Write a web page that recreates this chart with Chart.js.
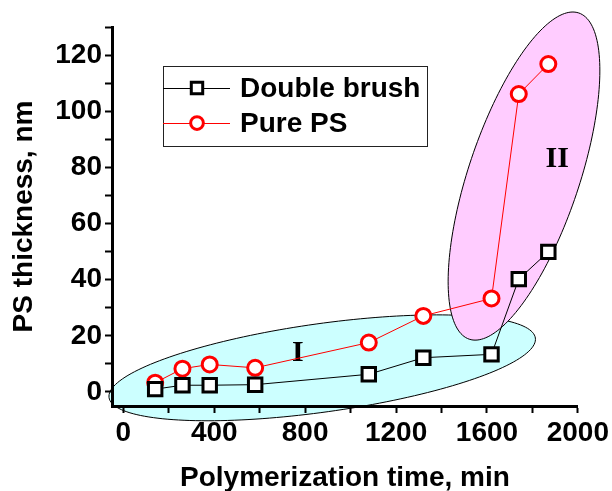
<!DOCTYPE html>
<html>
<head>
<meta charset="utf-8">
<script src="https://cdn.jsdelivr.net/npm/chart.js@4/dist/chart.umd.min.js"></script>
<style>
  html, body { margin: 0; padding: 0; background: #fff; }
</style>
</head>
<body>
<canvas id="chart" width="612" height="491"></canvas>
<script>
const timeMin = [140, 260, 380, 580, 1080, 1320, 1620, 1740, 1870];
const doubleBrush = [1, 2.4, 2.4, 2.6, 6.3, 12.2, 13.4, 40.2, 49.9];
const purePS = [3.3, 8.3, 9.8, 8.6, 17.6, 27.1, 33.3, 106.1, 116.8];
const seriesNames = ['Double brush', 'Pure PS'];
const xTickLabels = [0, 400, 800, 1200, 1600, 2000];
const yTickLabels = [0, 20, 40, 60, 80, 100, 120];

// the two shaded regions: centre + two semi-axis vectors, all in data units
const regionNames = ['I', 'II'];
const regionCentres = [[875, 8.6], [1763, 76.9]];
const regionAxisA = [[938, 10.6], [241, 58.1]];
const regionAxisB = [[26.8, -15.6], [231, -6.3]];
const regionLabelAt = [[768, 13.9], [1909, 82.8]];
const regionFills = ['#ccffff', '#ffccff'];

const sans = '"Liberation Sans", Arial, sans-serif';

const regions = {
    id: 'regions',
    beforeDraw(chart) {
        let ctx = chart.ctx;
        let xs = chart.scales.x, ys = chart.scales.y;
        regionCentres.forEach((c, i) => {
            ctx.save();
            ctx.beginPath();
            for (let k = 0; k <= 180; k++) {
                let t = k / 180 * Math.PI * 2;
                let dx = c[0] + regionAxisA[i][0] * Math.cos(t) + regionAxisB[i][0] * Math.sin(t);
                let dy = c[1] + regionAxisA[i][1] * Math.cos(t) + regionAxisB[i][1] * Math.sin(t);
                let px = xs.getPixelForValue(dx), py = ys.getPixelForValue(dy);
                if (k === 0) ctx.moveTo(px, py); else ctx.lineTo(px, py);
            }
            ctx.closePath();
            ctx.fillStyle = regionFills[i];
            ctx.fill();
            ctx.lineWidth = 1;
            ctx.strokeStyle = '#000';
            ctx.stroke();
            ctx.restore();
        });
    },
    beforeDatasetsDraw(chart) {
        let ctx = chart.ctx;
        ctx.save();
        ctx.font = 'bold 30px "Liberation Serif", "Times New Roman", serif';
        ctx.fillStyle = '#000';
        ctx.textAlign = 'center';
        ctx.textBaseline = 'middle';
        regionNames.forEach((name, i) => {
            ctx.fillText(name,
                chart.scales.x.getPixelForValue(regionLabelAt[i][0]),
                chart.scales.y.getPixelForValue(regionLabelAt[i][1]));
        });
        ctx.restore();
    }
};

const legendBox = {
    id: 'legendBox',
    afterDraw(chart) {
        let ctx = chart.ctx;
        let area = chart.chartArea;
        let left = area.left + 51, top = area.top + 39, w = 264, h = 80;
        ctx.save();
        ctx.fillStyle = '#fff';
        ctx.fillRect(left, top, w, h);
        ctx.strokeStyle = '#222';
        ctx.lineWidth = 1;
        ctx.strokeRect(left + 0.5, top + 0.5, w, h);
        chart.data.datasets.forEach((ds, i) => {
            let cy = top + 22 + i * 35;
            ctx.strokeStyle = ds.borderColor;
            ctx.lineWidth = 1;
            ctx.beginPath();
            ctx.moveTo(left, cy + 0.5);
            ctx.lineTo(left + 67, cy + 0.5);
            ctx.stroke();
            ctx.fillStyle = ds.pointBackgroundColor;
            ctx.strokeStyle = ds.pointBorderColor;
            ctx.lineWidth = ds.pointBorderWidth;
            Chart.helpers.drawPoint(ctx, {
                pointStyle: ds.pointStyle,
                radius: ds.pointRadius * 0.85,
                borderWidth: ds.pointBorderWidth,
                rotation: 0
            }, left + 34, cy);
            ctx.fillStyle = '#000';
            ctx.font = 'bold 28px ' + sans;
            ctx.textBaseline = 'middle';
            ctx.textAlign = 'left';
            ctx.fillText(ds.label, left + 77, cy + 1);
        });
        ctx.restore();
    }
};

function axisOptions(min, max, step, labels, title) {
    return {
        type: 'linear',
        min: min,
        max: max,
        // major and minor tick marks from 0 upwards, labels only on the listed values
        afterBuildTicks: s => {
            let ticks = [];
            for (let v = 0; v <= max; v += step) ticks.push({ value: v });
            s.ticks = ticks;
        },
        ticks: {
            stepSize: step,
            autoSkip: false,
            maxRotation: 0,
            color: '#000',
            padding: 3,
            font: { family: sans, size: 28, weight: 'bold' },
            callback: v => labels.includes(v) ? String(v) : ''
        },
        grid: {
            drawOnChartArea: false,
            tickLength: 7,
            tickWidth: 2,
            tickColor: '#000'
        },
        border: { display: true, width: 3, color: '#000' },
        title: {
            display: true,
            text: title,
            color: '#000',
            font: { family: sans, size: 28, weight: 'bold' },
            padding: { top: 0, bottom: -4 }
        }
    };
}

let xAxis = axisOptions(-50, 2000, 200, xTickLabels, 'Polymerization time, min');
xAxis.afterFit = s => { s.height = 85; };
let yAxis = axisOptions(-5, 130, 10, yTickLabels, 'PS thickness, nm');
yAxis.afterFit = s => { s.width = 112; };
yAxis.title.padding = { top: 7, bottom: 0 };

new Chart(document.getElementById('chart').getContext('2d'), {
    type: 'line',
    data: {
        datasets: [
            {
                label: seriesNames[0],
                data: timeMin.map((t, i) => ({ x: t, y: doubleBrush[i] })),
                borderColor: '#000',
                borderWidth: 1,
                pointStyle: 'rect',
                pointRadius: 9.5,
                pointBorderWidth: 3,
                pointBackgroundColor: '#fff',
                pointBorderColor: '#000',
                clip: false
            },
            {
                label: seriesNames[1],
                data: timeMin.map((t, i) => ({ x: t, y: purePS[i] })),
                borderColor: '#ff0000',
                borderWidth: 1,
                pointStyle: 'circle',
                pointRadius: 7.5,
                pointBorderWidth: 3,
                pointBackgroundColor: '#fff',
                pointBorderColor: '#ff0000',
                clip: false
            }
        ]
    },
    options: {
        responsive: false,
        animation: false,
        devicePixelRatio: 1,
        layout: { padding: { top: 27, right: 34, left: 0, bottom: 0 } },
        plugins: {
            legend: { display: false },
            tooltip: { enabled: false }
        },
        scales: { x: xAxis, y: yAxis }
    },
    plugins: [regions, legendBox]
});
</script>
</body>
</html>
